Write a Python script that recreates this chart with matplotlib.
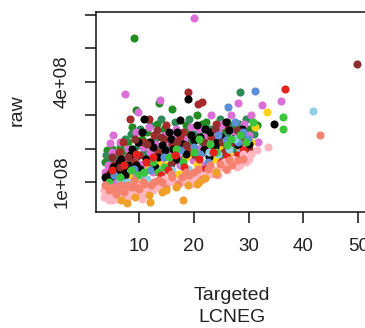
import numpy as np
import matplotlib
matplotlib.use("Agg")
import matplotlib.pyplot as plt

plt.rcParams['font.family'] = ['Liberation Sans', 'DejaVu Sans']

# (Targeted LCNEG, raw / 1e8) per sample group
forestgreen = [(4.2, 1.95), (5.0, 2.0), (5.8, 1.85), (6.5, 2.05), (7.2, 1.9), (8.7, 2.65), (9.5, 3.15),
               (9.1, 5.31), (10.5, 2.3), (11.5, 2.5), (12.4, 2.0), (13.6, 3.37), (14.5, 2.6), (16.0, 3.2),
               (17.2, 2.4), (18.5, 2.7), (19.8, 2.2), (21.0, 2.5), (22.3, 2.8), (23.5, 2.3), (24.2, 2.0),
               (25.5, 2.5), (26.5, 2.15), (27.0, 2.7), (28.0, 2.4), (29.0, 2.2), (30.2, 2.6), (22.0, 1.9),
               (20.5, 3.0), (15.2, 2.2), (6.0, 1.4), (12.0, 1.6), (3.8, 1.6), (4.5, 1.35), (5.5, 1.7),
               (7.0, 1.6), (8.0, 2.2), (9.5, 1.75), (10.8, 1.8), (11.8, 2.2), (13.0, 2.05), (14.0, 1.8),
               (15.8, 2.45), (17.0, 2.0), (18.0, 2.2), (19.0, 2.5), (20.2, 1.75), (21.5, 2.75), (23.0, 2.05),
               (24.8, 2.3), (26.0, 2.8), (27.8, 2.15), (29.5, 2.45), (31.5, 2.7), (16.5, 1.65), (13.2, 2.75),
               (10.0, 2.1)]
seagreen = [(4.8, 1.7), (7.5, 2.3), (8.2, 1.6), (10.2, 2.6), (11.0, 1.9), (13.0, 2.3), (14.0, 2.9),
            (16.5, 2.8), (18.0, 2.0), (19.2, 2.9), (21.5, 2.2), (23.0, 2.6), (24.8, 2.9), (26.0, 2.4),
            (27.5, 2.0), (28.4, 3.69), (29.5, 2.9), (31.0, 2.45), (25.0, 1.7), (17.8, 1.7), (9.0, 2.0),
            (4.0, 1.8), (6.2, 1.8), (8.5, 2.45), (12.0, 2.7), (15.0, 2.05), (20.0, 2.45), (22.5, 2.45),
            (26.5, 2.65), (28.2, 2.75), (18.8, 2.25)]
orchid = [(3.8, 1.3), (4.7, 2.17), (5.3, 2.4), (6.2, 1.6), (7.4, 3.63), (7.8, 1.75), (9.8, 3.1),
          (10.8, 2.05), (11.8, 2.65), (13.8, 3.45), (14.8, 2.4), (15.5, 1.9), (16.8, 2.6), (18.2, 2.3),
          (19.5, 2.65), (20.0, 5.91), (20.8, 2.0), (22.0, 2.35), (23.2, 3.0), (24.5, 2.55), (25.5, 2.1),
          (26.8, 3.0), (28.0, 3.37), (29.2, 2.75), (30.5, 3.0), (31.7, 2.2), (32.5, 3.3), (35.9, 3.43),
          (12.5, 1.3), (8.5, 1.2), (17.5, 1.5), (5.5, 1.05), (10.0, 1.55), (21.5, 1.5), (4.0, 1.05),
          (4.3, 1.5), (5.0, 1.9), (6.5, 2.2), (7.0, 1.3), (8.0, 2.0), (9.0, 1.75), (9.5, 2.5), (11.0, 1.55),
          (12.0, 1.9), (13.0, 2.15), (14.0, 1.6), (15.5, 2.2), (16.2, 2.35), (17.0, 1.75), (18.8, 2.05),
          (19.8, 1.65), (21.0, 2.6), (22.5, 1.85), (23.5, 2.15), (24.0, 1.75), (25.2, 2.75), (26.2, 1.9),
          (27.5, 2.45), (29.0, 2.05), (30.0, 2.4), (10.5, 1.2), (6.0, 0.85), (8.2, 0.95)]
gold = [(6.8, 0.95), (9.5, 1.0), (11.8, 1.45), (15.0, 1.5), (17.3, 1.25), (20.5, 1.55), (23.8, 1.7),
        (25.2, 2.0), (28.2, 2.05), (33.4, 3.1), (19.2, 1.85), (8.2, 1.15), (13.5, 1.6), (18.5, 1.75),
        (26.5, 1.8), (30.5, 2.2), (31.2, 2.65)]
brown = [(5.5, 1.5), (7.0, 2.2), (8.4, 2.9), (11.8, 2.89), (10.0, 1.8), (13.5, 1.9), (15.0, 2.7),
         (16.5, 1.8), (19.0, 3.7), (20.8, 3.33), (21.5, 3.4), (22.5, 2.1), (24.0, 2.75), (26.2, 2.6),
         (28.5, 2.3), (30.0, 2.0), (18.0, 2.5), (12.8, 2.4), (4.3, 1.2), (6.3, 1.9), (9.0, 1.6),
         (10.8, 2.2), (12.2, 1.6), (14.5, 2.3), (16.0, 2.15), (17.5, 2.35), (19.2, 2.0), (20.5, 2.3),
         (23.2, 2.35), (25.5, 1.9), (27.0, 2.2)]
black = [(4.5, 1.1), (5.2, 1.45), (6.0, 1.3), (6.8, 1.7), (7.5, 1.2), (8.8, 2.0), (9.5, 1.5), (10.5, 2.5),
         (11.2, 1.7), (12.0, 2.2), (13.0, 1.45), (14.2, 2.1), (15.5, 2.5), (16.2, 2.0), (17.5, 2.85),
         (19.0, 3.5), (19.5, 2.4), (20.5, 2.7), (21.8, 2.0), (23.0, 2.5), (24.3, 2.2), (25.8, 2.8),
         (27.2, 2.3), (28.8, 2.6), (34.6, 2.74), (18.5, 1.85), (22.8, 1.75), (11.0, 2.9), (3.8, 1.15),
         (4.8, 1.3), (5.5, 1.2), (6.3, 1.6), (7.0, 1.4), (8.0, 1.5), (8.4, 1.8), (9.8, 2.2), (10.2, 1.4),
         (12.5, 2.05), (13.5, 1.75), (14.8, 1.95), (15.8, 2.3), (17.0, 2.5), (18.0, 2.15), (20.0, 2.25),
         (21.2, 2.35), (22.0, 2.6), (23.8, 2.05), (25.0, 2.35), (26.5, 2.55), (28.0, 2.1), (30.0, 2.15),
         (16.8, 1.7)]
darkred = [(5.0, 1.75), (9.2, 2.3), (13.3, 2.55), (17.0, 2.2), (20.2, 1.8), (23.8, 2.6), (27.8, 2.55),
           (49.8, 4.53), (15.8, 1.55), (25.2, 2.2), (6.5, 1.45), (8.0, 1.75), (11.5, 2.15), (14.0, 2.35),
           (18.5, 2.1), (21.8, 2.2), (26.0, 2.05)]
steelblue = [(4.2, 0.9), (9.0, 1.4), (14.5, 1.75), (20.0, 2.05), (24.5, 2.4), (26.2, 3.25), (27.5, 2.8),
             (31.2, 3.73), (29.8, 2.3), (22.5, 1.6), (29.0, 2.5), (5.5, 1.2), (7.5, 1.0), (12.0, 1.35),
             (17.5, 1.95), (21.2, 1.85), (25.8, 2.25), (28.0, 2.2)]
skyblue = [(5.0, 0.8), (8.0, 1.0), (11.5, 1.1), (16.0, 1.35), (19.0, 1.4), (22.8, 1.9), (26.5, 2.0),
           (28.5, 1.9), (41.7, 3.13), (13.0, 1.0), (3.9, 0.75), (6.5, 1.05), (10.0, 1.2), (14.0, 1.35),
           (18.0, 1.5), (21.0, 1.7), (24.5, 1.85), (27.5, 2.3)]
limegreen = [(6.5, 1.15), (11.0, 1.3), (14.5, 1.45), (18.0, 1.6), (21.0, 2.3), (24.0, 1.9), (26.8, 2.3),
             (29.5, 2.2), (30.8, 2.8), (36.3, 2.59), (36.3, 2.96), (16.8, 2.0), (4.5, 1.0), (8.5, 1.35),
             (12.5, 1.6), (15.5, 1.75), (20.0, 1.9), (23.0, 2.15), (26.0, 2.1), (28.5, 2.4), (13.5, 1.3),
             (9.8, 1.2)]
red = [(7.2, 1.5), (12.5, 1.75), (16.5, 1.8), (19.5, 1.2), (22.0, 1.4), (25.0, 1.6), (27.8, 1.8),
       (36.6, 3.79), (14.0, 1.2), (5.0, 1.35), (9.5, 1.85), (11.2, 1.6), (15.2, 1.35), (18.2, 1.45),
       (21.0, 1.7), (23.5, 1.9), (26.0, 1.75), (29.0, 1.95)]
lightpink = [(3.7, 0.55), (4.0, 0.55), (5.0, 0.45), (6.0, 0.5), (7.0, 0.6), (8.0, 0.55), (9.0, 0.7),
             (10.5, 0.65), (11.5, 0.8), (12.5, 0.75), (13.8, 0.9), (15.0, 0.9), (16.2, 1.0), (17.5, 1.05),
             (18.8, 1.15), (20.0, 1.1), (21.2, 1.25), (22.5, 1.3), (23.8, 1.35), (25.0, 1.45), (26.4, 1.57),
             (27.2, 1.7), (28.5, 1.5), (29.5, 1.6), (33.5, 2.05), (30.5, 1.85), (19.5, 0.95), (24.5, 1.2),
             (14.5, 1.1), (9.8, 0.9), (7.5, 0.8), (3.6, 0.75), (4.5, 0.6), (5.5, 0.6), (6.5, 0.65),
             (8.5, 0.75), (9.5, 0.6), (11.0, 0.7), (12.0, 0.9), (13.0, 0.85), (14.0, 0.8), (15.8, 1.1),
             (16.8, 0.95), (18.0, 1.0), (19.0, 1.05), (20.8, 1.15), (22.0, 1.2), (23.2, 1.25), (26.0, 1.35),
             (27.8, 1.45), (30.0, 1.7), (31.5, 1.95), (29.0, 1.85), (25.5, 1.6), (4.5, 0.45), (10.5, 0.5)]
salmon = [(4.5, 0.75), (5.8, 0.65), (7.2, 0.7), (8.5, 0.85), (10.0, 0.8), (11.0, 0.95), (12.2, 0.9),
          (13.5, 1.05), (15.0, 0.82), (16.0, 1.15), (17.2, 0.95), (18.5, 1.3), (20.0, 1.3), (21.5, 1.1),
          (23.0, 1.5), (24.0, 1.25), (25.8, 1.4), (27.0, 1.5), (29.0, 1.7), (43.0, 2.40), (6.5, 0.9),
          (9.0, 1.05), (3.8, 0.9), (5.0, 0.85), (6.0, 0.75), (7.8, 0.9), (9.5, 0.85), (10.8, 1.0),
          (12.8, 1.0), (14.2, 1.0), (15.8, 1.25), (17.8, 1.15), (19.2, 1.2), (20.8, 1.4), (22.5, 1.4),
          (24.8, 1.55), (26.5, 1.65), (28.0, 1.65)]
orange = [(6.8, 0.45), (7.8, 0.37), (9.2, 0.55), (11.8, 0.6), (14.2, 0.7), (16.8, 0.85), (18.0, 0.45),
          (19.0, 0.9), (20.5, 0.95), (22.0, 1.12), (24.0, 1.3), (12.0, 0.4), (15.0, 0.75), (21.0, 1.0)]

groups = [
    (forestgreen, '#228B22'), (seagreen, '#2E8B57'), (orchid, '#DA70D6'), (gold, '#FFD21A'),
    (brown, '#A52A2A'), (black, '#000000'), (darkred, '#8B2E2E'), (steelblue, '#5B8FD6'),
    (skyblue, '#8ED0E6'), (limegreen, '#3CC43C'), (red, '#E5211C'), (lightpink, '#FFB6C1'),
    (salmon, '#F4826E'), (orange, '#F0A028'),
]

fig = plt.figure(figsize=(3.65, 3.28), dpi=100)
ax = fig.add_axes([96 / 365, 116 / 328, 273 / 365, 200 / 328])

for pts, col in groups:
    xs = np.array([p[0] for p in pts])
    ys = np.array([p[1] for p in pts]) * 1e8
    ax.scatter(xs, ys, s=34, c=col, linewidths=0, zorder=2)

ax.set_xlim(2.15, 51.97)
ax.set_ylim(0.102e8, 6.09e8)

txt = '#222222'
ax.set_xticks([10, 20, 30, 40, 50])
ax.set_xticklabels(['10', '20', '30', '40', '50'])
ax.set_yticks([1e8, 2e8, 3e8, 4e8, 5e8, 6e8])
ax.set_yticklabels(['1e+08', '', '', '4e+08', '', ''], rotation=90, va='center')
ax.tick_params(axis='both', length=8, width=1.1, colors='#111111', labelcolor=txt, labelsize=13.5)
ax.tick_params(axis='x', pad=11)
ax.tick_params(axis='y', pad=10)
for sp in ax.spines.values():
    sp.set_linewidth(1.1)
    sp.set_color('#111111')
ax.spines['right'].set_visible(False)

fig.text(17 / 365, 1 - 110 / 328, 'raw', rotation=90, ha='center', va='center', fontsize=14, color=txt)
fig.text(232 / 365, 1 - 295 / 328, 'Targeted', ha='center', va='center', fontsize=14, color=txt)
fig.text(232 / 365, 1 - 318 / 328, 'LCNEG', ha='center', va='center', fontsize=14, color=txt)

fig.savefig('out.png', dpi=100)
